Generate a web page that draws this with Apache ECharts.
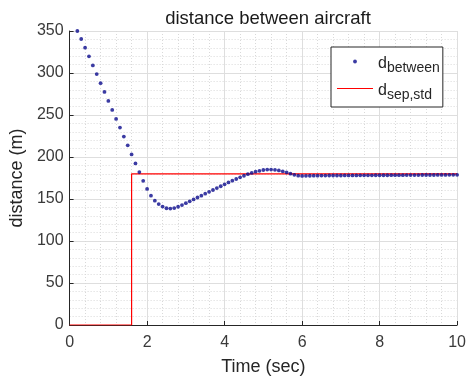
<!DOCTYPE html>
<html>
<head>
<meta charset="utf-8">
<script src="https://cdn.jsdelivr.net/npm/echarts@6/dist/echarts.min.js"></script>
<style>
  html, body { margin: 0; padding: 0; background: #fff; }
  #chart { width: 469px; height: 384px; }
</style>
</head>
<body>
<div id="chart"></div>
<script>
// Sample times (s) of the separation trace
const timeSec = [
  0.2, 0.3, 0.4, 0.5, 0.6, 0.7, 0.8, 0.9, 1.0, 1.1,
  1.2, 1.3, 1.4, 1.5, 1.6, 1.7, 1.8, 1.9, 2.0, 2.1,
  2.2, 2.3, 2.4, 2.5, 2.6, 2.7, 2.8, 2.9, 3.0, 3.1,
  3.2, 3.3, 3.4, 3.5, 3.6, 3.7, 3.8, 3.9, 4.0, 4.1,
  4.2, 4.3, 4.4, 4.5, 4.6, 4.7, 4.8, 4.9, 5.0, 5.1,
  5.2, 5.3, 5.4, 5.5, 5.6, 5.7, 5.8, 5.9, 6.0, 6.1,
  6.2, 6.3, 6.4, 6.5, 6.6, 6.7, 6.8, 6.9, 7.0, 7.1,
  7.2, 7.3, 7.4, 7.5, 7.6, 7.7, 7.8, 7.9, 8.0, 8.1,
  8.2, 8.3, 8.4, 8.5, 8.6, 8.7, 8.8, 8.9, 9.0, 9.1,
  9.2, 9.3, 9.4, 9.5, 9.6, 9.7, 9.8, 9.9, 10.0
];

// Distance between the two aircraft (m)
const dBetween = [
  350.0, 340.5, 330.1, 319.8, 309.0, 298.7, 287.9, 277.5, 266.8, 256.0,
  245.3, 235.0, 224.3, 213.9, 203.1, 192.4, 182.0, 171.6, 162.0, 154.0,
  148.0, 144.0, 141.0, 139.0, 138.6, 139.2, 140.8, 142.8, 145.0, 147.2,
  149.5, 151.8, 154.0, 156.3, 158.5, 160.7, 163.0, 165.2, 167.5, 169.7,
  171.8, 173.8, 175.8, 177.7, 179.5, 181.0, 182.5, 183.6, 184.5, 185.0,
  185.0, 184.7, 184.0, 183.0, 181.7, 180.2, 178.8, 177.8, 177.5, 177.6,
  177.7, 177.8, 177.8, 177.9, 177.9, 178.0, 178.0, 178.0, 178.0, 178.1,
  178.1, 178.1, 178.1, 178.2, 178.2, 178.2, 178.2, 178.3, 178.3, 178.3,
  178.3, 178.4, 178.4, 178.4, 178.4, 178.5, 178.5, 178.5, 178.5, 178.6,
  178.6, 178.6, 178.6, 178.7, 178.7, 178.7, 178.8, 178.8, 178.8
];

// Standard separation requirement: step from 0 to 180 m at t = 1.6 s
const sepTime = [0, 1.6, 1.6, 10];
const sepStd = [0, 0, 180, 180];

const xTicks = { min: 0, max: 10, step: 2 };
const yTicks = { min: 0, max: 350, step: 50 };

const axisColor = '#262626';
const labelColor = '#3a3a3a';
const dotColor = '#0a0a8c';
const sepColor = '#ff0000';
const font = '"Liberation Sans", Arial, Helvetica, sans-serif';

const chart = echarts.init(document.getElementById('chart'), null, { renderer: 'canvas' });

// Legend glyphs: a single small dot, and a thin horizontal stroke, inside a 36x14 cell
const dotIcon = 'path://M0 0M36 0M36 14M0 14M16.1 7A1.9 1.9 0 1 1 19.9 7A1.9 1.9 0 1 1 16.1 7Z';
const lineIcon = 'path://M0 0M36 0M36 14M0 14M0 6.4L36 6.4L36 7.6L0 7.6Z';

chart.setOption({
  animation: false,
  backgroundColor: '#ffffff',
  title: {
    text: 'distance between aircraft',
    left: 263,
    textAlign: 'center',
    top: 4,
    textStyle: { fontFamily: font, fontSize: 18.5, fontWeight: 'normal', color: '#1a1a1a' }
  },
  grid: { left: 68, right: 10, top: 31, bottom: 59, containLabel: false },
  legend: {
    orient: 'vertical',
    left: 331,
    top: 47,
    padding: [1, 3, 5, 6],
    itemGap: 0,
    itemWidth: 36,
    itemHeight: 14,
    backgroundColor: '#ffffff',
    borderColor: axisColor,
    borderWidth: 1,
    borderRadius: 0,
    data: [
      { name: 'dBetween', icon: dotIcon, itemStyle: { color: dotColor } },
      { name: 'dSep', icon: lineIcon, itemStyle: { color: sepColor } }
    ],
    formatter: function (name) {
      return name === 'dBetween' ? '{d|d}{s|between}' : '{d|d}{s|sep,std}';
    },
    textStyle: {
      fontFamily: font,
      color: axisColor,
      lineHeight: 27,
      rich: {
        d: { fontFamily: font, fontSize: 16, color: axisColor, lineHeight: 27, padding: [0, 0, 3, 0], verticalAlign: 'bottom' },
        s: { fontFamily: font, fontSize: 14, color: axisColor, lineHeight: 27, verticalAlign: 'bottom' }
      }
    }
  },
  xAxis: {
    type: 'value',
    min: xTicks.min,
    max: xTicks.max,
    interval: xTicks.step,
    name: 'Time (sec)',
    nameLocation: 'middle',
    nameGap: 33,
    nameTextStyle: { fontFamily: font, fontSize: 18, color: axisColor },
    axisLine: { show: true, onZero: false, lineStyle: { color: axisColor, width: 1 } },
    axisTick: { show: true, inside: true, length: 4, lineStyle: { color: axisColor } },
    axisLabel: { fontFamily: font, fontSize: 16, color: labelColor, margin: 10 },
    splitLine: { show: true, lineStyle: { color: '#dedede', width: 1 } },
    minorTick: { show: false, splitNumber: 5 },
    minorSplitLine: { show: true, lineStyle: { color: '#d9d9d9', width: 1, type: [1, 2] } }
  },
  yAxis: {
    type: 'value',
    min: yTicks.min,
    max: yTicks.max,
    interval: yTicks.step,
    name: 'distance (m)',
    nameLocation: 'middle',
    nameGap: 43,
    nameTextStyle: { fontFamily: font, fontSize: 18, color: axisColor },
    axisLine: { show: true, onZero: false, lineStyle: { color: axisColor, width: 1 } },
    axisTick: { show: true, inside: true, length: 4, lineStyle: { color: axisColor } },
    axisLabel: { fontFamily: font, fontSize: 16, color: labelColor, margin: 6 },
    splitLine: { show: true, lineStyle: { color: '#dedede', width: 1 } },
    minorTick: { show: false, splitNumber: 5 },
    minorSplitLine: { show: true, lineStyle: { color: '#d9d9d9', width: 1, type: [1, 2] } }
  },
  series: [
    {
      name: 'dBetween',
      type: 'scatter',
      symbol: 'circle',
      symbolSize: 3.8,
      itemStyle: { color: dotColor },
      data: timeSec.map((t, i) => [t, dBetween[i]]),
      z: 3
    },
    {
      name: 'dSep',
      type: 'line',
      symbol: 'none',
      lineStyle: { color: sepColor, width: 1.2 },
      itemStyle: { color: sepColor },
      data: sepTime.map((t, i) => [t, sepStd[i]]),
      z: 2
    }
  ]
});
</script>
</body>
</html>
